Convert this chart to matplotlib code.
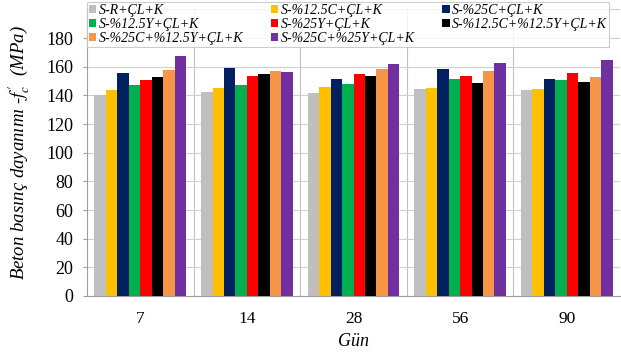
import matplotlib
matplotlib.use("Agg")
import matplotlib.pyplot as plt
import numpy as np

plt.rcParams["font.family"] = ["Liberation Serif", "DejaVu Serif"]
plt.rcParams["mathtext.fontset"] = "stix"

days = ["7", "14", "28", "56", "90"]
series = [
    "S-R+ÇL+K",
    "S-%12.5C+ÇL+K",
    "S-%25C+ÇL+K",
    "S-%12.5Y+ÇL+K",
    "S-%25Y+ÇL+K",
    "S-%12.5C+%12.5Y+ÇL+K",
    "S-%25C+%12.5Y+ÇL+K",
    "S-%25C+%25Y+ÇL+K",
]
colors = ["#bfbfbf", "#ffc000", "#002060", "#00b050", "#ff0000", "#000000", "#f79646", "#7030a0"]

s_r = [140.3, 142.1, 141.9, 144.7, 143.5]
s_125c = [144.0, 145.4, 145.8, 145.4, 144.2]
s_25c = [155.4, 159.3, 151.2, 158.4, 151.4]
s_125y = [147.2, 147.0, 147.7, 151.2, 150.7]
s_25y = [150.5, 153.3, 154.7, 153.3, 155.8]
s_125c_125y = [153.0, 155.1, 153.5, 148.9, 149.6]
s_25c_125y = [157.7, 156.8, 158.2, 157.0, 152.5]
s_25c_25y = [167.5, 156.1, 162.0, 162.8, 164.7]
values = [s_r, s_125c, s_25c, s_125y, s_25y, s_125c_125y, s_25c_125y, s_25c_25y]

fig = plt.figure(figsize=(6.21, 3.53), dpi=100)
ax = fig.add_axes([87 / 621, (353 - 296) / 353, (620 - 87) / 621, (296 - 9.4) / 353])

x = np.arange(len(days))
n = len(series)
width = 0.86 / n
handles = []
for i, (name, vals, c) in enumerate(zip(series, values, colors)):
    b = ax.bar(x - 0.43 + width * (i + 0.5), vals, width, color=c, label=name, zorder=3)
    handles.append(b)

ax.set_xlim(-0.5, len(days) - 0.5)
ax.set_ylim(0, 200)
ax.set_yticks(np.arange(0, 181, 20))
ax.set_xticks(x)
ax.set_xticklabels(days)
ax.set_xticks(np.arange(0.5, len(days) - 0.5, 1), minor=True)
ax.grid(axis="y", color="#d0d0d0", linewidth=0.8, zorder=0)
ax.grid(axis="x", which="minor", color="#c0c0c0", linewidth=0.8, zorder=0)
ax.axhline(200, color="#d0d0d0", linewidth=0.8, zorder=0)
ax.tick_params(axis="x", which="both", length=0, labelsize=12.5, pad=11)
ax.tick_params(axis="y", length=3, color="#a0a0a0", labelsize=13, pad=7)
for side in ["top", "right"]:
    ax.spines[side].set_visible(False)
for side in ["left", "bottom"]:
    ax.spines[side].set_color("#a0a0a0")

ax.set_xlabel("Gün", fontsize=13, style="italic", labelpad=4)
ax.set_ylabel("Beton basınç dayanımı -$f_c'$  (MPa)", fontsize=13.5, style="italic", labelpad=10)

# legenda letta per righe come nell'originale
order = [0, 3, 6, 1, 4, 7, 2, 5]
leg = fig.legend([handles[i] for i in order], [series[i] for i in order],
                 ncol=3, loc="upper left", bbox_to_anchor=(87 / 621, 1 - 2 / 353),
                 frameon=True, fancybox=False, edgecolor="#c0c0c0",
                 prop={"family": "Liberation Serif", "style": "italic", "size": 10},
                 handlelength=0.55, handleheight=0.55, handletextpad=0.15,
                 columnspacing=2.0, labelspacing=0.08, borderpad=0.12,
                 borderaxespad=0)
leg.get_frame().set_linewidth(0.8)

fig.savefig("out.png", dpi=100)
